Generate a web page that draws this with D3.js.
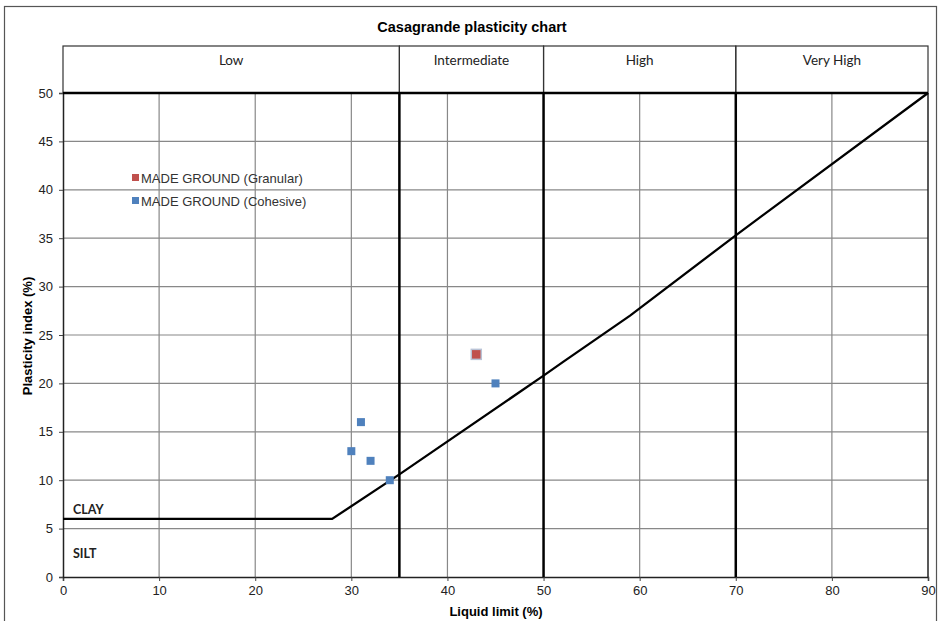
<!DOCTYPE html>
<html><head><meta charset="utf-8">
<script src="https://cdn.jsdelivr.net/npm/d3@7"></script>
<style>body{margin:0;background:#fff}svg{display:block}</style>
</head><body>
<script>
const title = "Casagrande plasticity chart";
const xTicks = [0,10,20,30,40,50,60,70,80,90];
const yTicks = [0,5,10,15,20,25,30,35,40,45,50];
const zoneNames = ["Low","Intermediate","High","Very High"];
const zoneBounds = [0,35,50,70,90];
const aLineLL = [0,28,35,50,52,59,70,90];
const aLinePI = [6,6,10.6,20.8,22.2,27,35.3,50];
const granularLL = [43];
const granularPI = [23];
const cohesiveLL = [30,31,32,34,45];
const cohesivePI = [13,16,12,10,20];
const seriesNames = ["MADE GROUND (Granular)","MADE GROUND (Cohesive)"];
const seriesColors = ["#C0504D","#4F81BD"];

const W=941,H=621;
const svg=d3.select("body").append("svg").attr("width",W).attr("height",H);
const x=d3.scaleLinear().domain([0,90]).range([63,928]);
const y=d3.scaleLinear().domain([0,50]).range([577,93]);

svg.append("rect").attr("x",4.5).attr("y",6.5).attr("width",932).attr("height",620)
  .attr("fill","none").attr("stroke","#555").attr("stroke-width",1.2);

svg.append("text").attr("x",472).attr("y",32).attr("text-anchor","middle")
  .attr("font-family","Liberation Sans, Arial").attr("font-weight","bold").attr("font-size",14.5)
  .text(title);

const zg=svg.append("g");
zoneNames.forEach((n,i)=>{
  const x0=x(zoneBounds[i]), x1=x(zoneBounds[i+1]);
  zg.append("rect").attr("x",x0).attr("y",46).attr("width",x1-x0).attr("height",y(50)-46)
    .attr("fill","none").attr("stroke","#333").attr("stroke-width",1.2);
  zg.append("text").attr("x",(x0+x1)/2).attr("y",65).attr("text-anchor","middle")
    .attr("font-family","Lato, Carlito, sans-serif").attr("font-size",13.5).attr("fill","#222").text(n);
});

const g=svg.append("g");
g.selectAll(".hg").data(yTicks.filter(d=>d>0&&d<50)).enter().append("line")
  .attr("x1",x(0)).attr("x2",x(90)).attr("y1",d=>y(d)).attr("y2",d=>y(d))
  .attr("stroke","#888").attr("stroke-width",1.2);
g.selectAll(".vg").data(xTicks.filter(d=>d>0&&d<90&&!zoneBounds.includes(d))).enter().append("line")
  .attr("y1",y(0)).attr("y2",y(50)).attr("x1",d=>x(d)).attr("x2",d=>x(d))
  .attr("stroke","#888").attr("stroke-width",1.2);

const xAxis=svg.append("g").attr("transform",`translate(0,${y(0)})`)
  .call(d3.axisBottom(x).tickValues(xTicks).tickSize(4).tickPadding(5));
const yAxis=svg.append("g").attr("transform",`translate(${x(0)},0)`)
  .call(d3.axisLeft(y).tickValues(yTicks).tickSize(4).tickPadding(6));
[xAxis,yAxis].forEach(a=>{
  a.select(".domain").attr("stroke","#222").attr("stroke-width",1.5);
  a.selectAll(".tick line").attr("stroke","#444");
  a.selectAll("text").attr("font-family","Liberation Sans, Arial").attr("font-size",13).attr("fill","#222");
});
svg.append("line").attr("x1",x(90)).attr("x2",x(90)).attr("y1",y(0)).attr("y2",y(50)).attr("stroke","#222").attr("stroke-width",1.5);
svg.append("line").attr("x1",x(0)).attr("x2",x(90)).attr("y1",y(50)).attr("y2",y(50)).attr("stroke","#000").attr("stroke-width",2.5);
svg.selectAll(".zb").data(zoneBounds.slice(1,4)).enter().append("line")
  .attr("x1",d=>x(d)).attr("x2",d=>x(d)).attr("y1",y(0)).attr("y2",y(50))
  .attr("stroke","#000").attr("stroke-width",2.5);

const aData=aLineLL.map((v,i)=>[v,aLinePI[i]]);
svg.append("path").datum(aData)
  .attr("d",d3.line().x(d=>x(d[0])).y(d=>y(d[1])))
  .attr("fill","none").attr("stroke","#000").attr("stroke-width",2.3);

svg.append("text").attr("x",73).attr("y",514).attr("font-family","Lato, Carlito, sans-serif")
  .attr("font-weight","bold").attr("font-size",12.5).attr("fill","#222").text("CLAY");
svg.append("text").attr("x",73).attr("y",558).attr("font-family","Lato, Carlito, sans-serif")
  .attr("font-weight","bold").attr("font-size",12.5).attr("fill","#222").text("SILT");

const s=8;
const pts=svg.append("g");
pts.selectAll(".c").data(cohesiveLL.map((v,i)=>[v,cohesivePI[i]])).enter().append("rect")
  .attr("x",d=>x(d[0])-s/2).attr("y",d=>y(d[1])-s/2).attr("width",s).attr("height",s)
  .attr("fill",seriesColors[1]);
pts.selectAll(".g").data(granularLL.map((v,i)=>[v,granularPI[i]])).enter().append("rect")
  .attr("x",d=>x(d[0])-s/2-1).attr("y",d=>y(d[1])-s/2-1).attr("width",s+2).attr("height",s+2)
  .attr("fill",seriesColors[0]).attr("stroke","#B9C3D6").attr("stroke-width",1.5);

seriesNames.forEach((n,i)=>{
  const ly=178+i*23;
  svg.append("rect").attr("x",132).attr("y",ly-4).attr("width",7).attr("height",7).attr("fill",seriesColors[i]);
  svg.append("text").attr("x",141).attr("y",ly+5).attr("font-family","Liberation Sans, Arial")
    .attr("font-size",13).attr("fill","#333").text(n);
});

svg.append("text").attr("x",496).attr("y",616).attr("text-anchor","middle")
  .attr("font-family","Liberation Sans, Arial").attr("font-weight","bold").attr("font-size",13).text("Liquid limit (%)");
svg.append("text").attr("transform",`translate(32,${y(25)+1}) rotate(-90)`).attr("text-anchor","middle")
  .attr("font-family","Liberation Sans, Arial").attr("font-weight","bold").attr("font-size",13).text("Plasticity index (%)");
</script>
</body></html>
